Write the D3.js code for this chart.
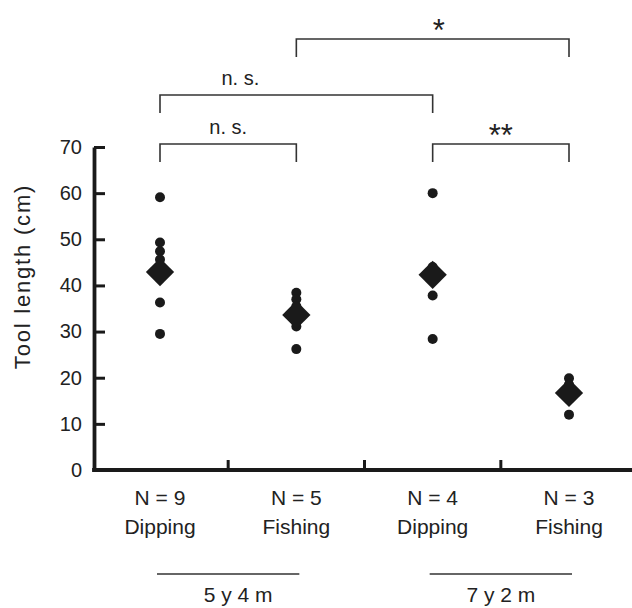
<!DOCTYPE html>
<html>
<head>
<meta charset="utf-8">
<script src="https://cdn.jsdelivr.net/npm/d3@7"></script>
<style>
  body { margin: 0; background: #fff; }
  svg { display: block; font-family: "Liberation Sans", Arial, sans-serif; }
</style>
</head>
<body>
<div id="chart"></div>
<script>
// groups along the x axis
const methods = ["Dipping", "Fishing", "Dipping", "Fishing"];
const sampleSizes = [9, 5, 4, 3];
const ages = ["5 y 4 m", "7 y 2 m"];

// individual tool lengths (cm) per group
const lengthsG1 = [59.1, 49.3, 47.4, 45.6, 44.0, 43.0, 41.8, 36.3, 29.5];
const lengthsG2 = [38.4, 37.0, 35.5, 31.1, 26.2];
const lengthsG3 = [60.0, 44.0, 37.8, 28.4];
const lengthsG4 = [19.9, 18.5, 12.0];
const groupLengths = [lengthsG1, lengthsG2, lengthsG3, lengthsG4];

// group means (diamonds)
const means = [42.9, 33.6, 42.3, 16.7];

const yTicks = [0, 10, 20, 30, 40, 50, 60, 70];

// pairwise comparisons (group index from / to)
const comparisons = [
    {from: 1, to: 3, label: "*"},
    {from: 0, to: 2, label: "n. s."},
    {from: 0, to: 1, label: "n. s."},
    {from: 2, to: 3, label: "**"}
];

const W = 632, H = 608;
const svg = d3.select("#chart").append("svg")
    .attr("width", W)
    .attr("height", H);

// scales
const x = d3.scaleLinear().domain([0, 3]).range([160, 569]);
const y = d3.scaleLinear().domain([0, 70]).range([470, 147]);
const axisX = 94;
const ink = "#1a1a1a";

// y axis, ticks pointing inside
const yAxis = svg.append("g")
    .attr("transform", "translate(" + axisX + ",0)")
    .call(d3.axisLeft(y).tickValues(yTicks).tickSize(-11).tickSizeOuter(0).tickPadding(12));
yAxis.select(".domain").attr("stroke", ink).attr("stroke-width", 3.8);
yAxis.selectAll(".tick line").attr("stroke", ink).attr("stroke-width", 3);
yAxis.selectAll(".tick text")
    .attr("fill", "#222")
    .style("font-size", "20px")
    .style("font-family", "Liberation Sans, Arial, sans-serif");

// x axis line with separators between groups
const xAxis = svg.append("g")
    .attr("transform", "translate(0," + y(0) + ")");
xAxis.append("line")
    .attr("x1", axisX - 1.9).attr("x2", W)
    .attr("stroke", ink).attr("stroke-width", 3.8);
xAxis.selectAll(".sep")
    .data([0.5, 1.5, 2.5])
    .join("line")
    .attr("class", "sep")
    .attr("x1", d => x(d)).attr("x2", d => x(d))
    .attr("y1", 0).attr("y2", -10)
    .attr("stroke", ink).attr("stroke-width", 3);

// y axis title
svg.append("text")
    .attr("transform", "translate(22," + ((y(0) + y(70)) / 2 - 32) + ") rotate(-90)")
    .attr("text-anchor", "middle")
    .attr("dy", "0.35em")
    .attr("fill", "#222")
    .style("font-size", "22px")
    .style("letter-spacing", "1.8px")
    .text("Tool length (cm)");

// category labels
const cats = svg.append("g").attr("fill", "#222").style("font-size", "21px");
cats.selectAll(".n")
    .data(sampleSizes)
    .join("text")
    .attr("class", "n")
    .attr("x", (d, i) => x(i))
    .attr("y", 505)
    .attr("text-anchor", "middle")
    .text(d => "N = " + d);
cats.selectAll(".m")
    .data(methods)
    .join("text")
    .attr("class", "m")
    .attr("x", (d, i) => x(i))
    .attr("y", 534)
    .attr("text-anchor", "middle")
    .text(d => d);

// age groups underneath
ages.forEach((a, k) => {
    const x1 = x(k * 2) - 3, x2 = x(k * 2 + 1) + 3;
    svg.append("line")
        .attr("x1", x1).attr("x2", x2)
        .attr("y1", 574).attr("y2", 574)
        .attr("stroke", "#333").attr("stroke-width", 1.5);
    svg.append("text")
        .attr("x", (x1 + x2) / 2 + (k === 0 ? 10 : 0))
        .attr("y", 602)
        .attr("text-anchor", "middle")
        .attr("fill", "#222")
        .style("font-size", "21px")
        .text(a);
});

// individual points
groupLengths.forEach((vals, i) => {
    svg.append("g").selectAll("circle")
        .data(vals)
        .join("circle")
        .attr("cx", x(i))
        .attr("cy", d => y(d))
        .attr("r", 5)
        .attr("fill", ink);
});

// means as diamonds
const diamond = d3.symbol(d3.symbolSquare, 400);
svg.append("g").selectAll("path")
    .data(means)
    .join("path")
    .attr("d", diamond)
    .attr("transform", (d, i) => "translate(" + x(i) + "," + y(d) + ") rotate(45)")
    .attr("fill", ink);

// significance brackets
const bracketY = [39, 95, 144, 144];
const legLen = 18;
const br = svg.append("g");
comparisons.forEach((c, k) => {
    const x1 = x(c.from), x2 = x(c.to), by = bracketY[k];
    br.append("path")
        .attr("d", "M" + x1 + "," + (by + legLen) + "V" + by + "H" + x2 + "V" + (by + legLen))
        .attr("fill", "none")
        .attr("stroke", "#333")
        .attr("stroke-width", 1.6);
    const star = c.label.indexOf("*") >= 0;
    // the wide n.s. label sits left of the bracket centre
    const lx = (x1 + x2) / 2 + (k === 1 ? -56 : 0) + (k === 0 ? 6 : 0);
    br.append("text")
        .attr("x", lx)
        .attr("y", star ? by + 2 : by - 10)
        .attr("text-anchor", "middle")
        .attr("fill", "#222")
        .style("font-size", star ? "31px" : "20px")
        .text(c.label);
});
</script>
</body>
</html>
